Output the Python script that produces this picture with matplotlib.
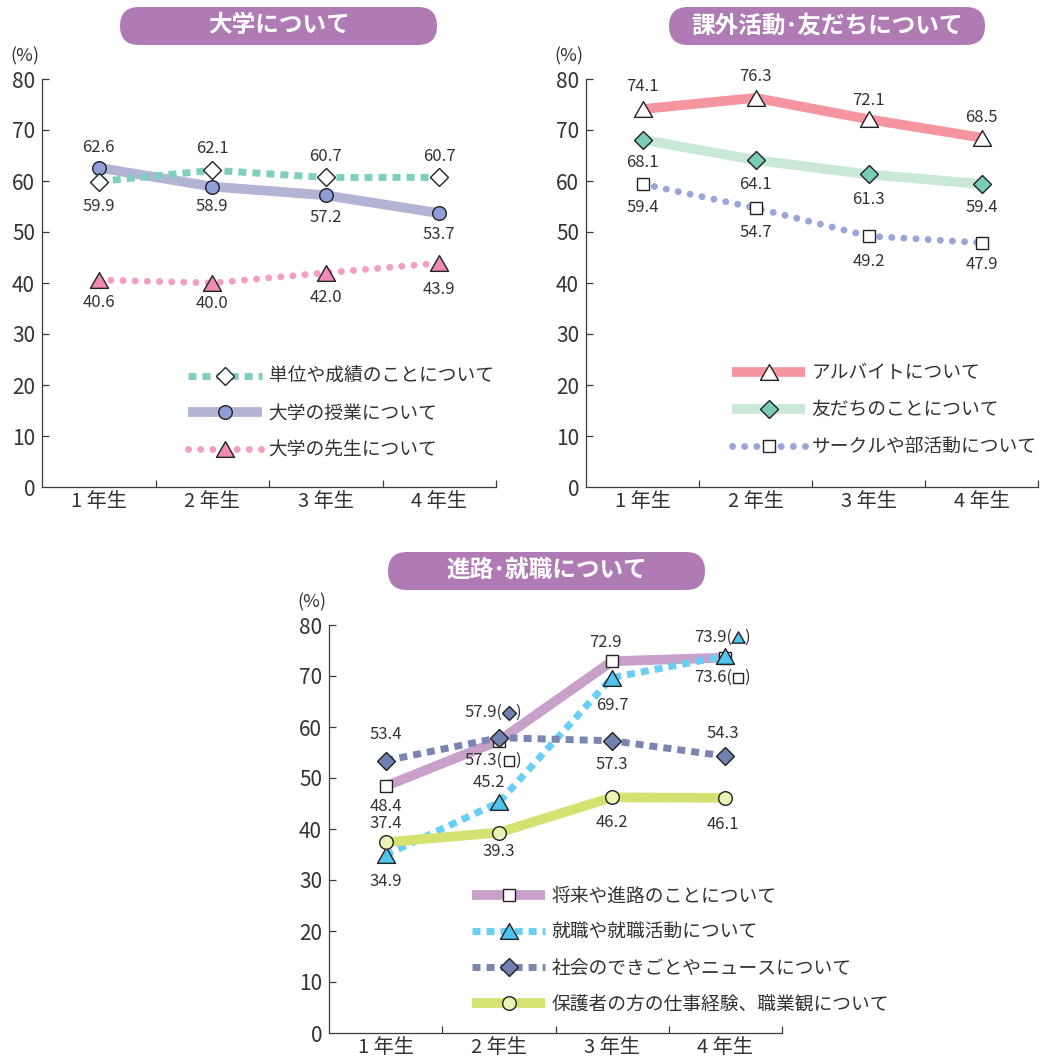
import matplotlib
matplotlib.use("Agg")
import matplotlib.pyplot as plt
import matplotlib.transforms as mtransforms
from matplotlib.lines import Line2D
from matplotlib.patches import FancyBboxPatch
from matplotlib.path import Path

plt.rcParams['font.family'] = ['Noto Sans CJK JP', 'DejaVu Sans']

# ---- data ----
GRADES = ["1 年生", "2 年生", "3 年生", "4 年生"]
Y_TICKS = [0, 10, 20, 30, 40, 50, 60, 70, 80]

UNI_TITLE = "大学について"
UNI_LABELS = ["単位や成績のことについて", "大学の授業について", "大学の先生について"]
UNI_CREDITS = [59.9, 62.1, 60.7, 60.7]
UNI_CLASSES = [62.6, 58.9, 57.2, 53.7]
UNI_TEACHERS = [40.6, 40.0, 42.0, 43.9]

CLUB_TITLE = "課外活動\uff65友だちについて"
CLUB_LABELS = ["アルバイトについて", "友だちのことについて", "サークルや部活動について"]
CLUB_PARTTIME = [74.1, 76.3, 72.1, 68.5]
CLUB_FRIENDS = [68.1, 64.1, 61.3, 59.4]
CLUB_CIRCLES = [59.4, 54.7, 49.2, 47.9]

CAREER_TITLE = "進路\uff65就職について"
CAREER_LABELS = ["将来や進路のことについて", "就職や就職活動について",
                 "社会のできごとやニュースについて", "保護者の方の仕事経験、職業観について"]
CAREER_FUTURE = [48.4, 57.3, 72.9, 73.6]
CAREER_JOBS = [34.9, 45.2, 69.7, 73.9]
CAREER_NEWS = [53.4, 57.9, 57.3, 54.3]
CAREER_PARENTS = [37.4, 39.3, 46.2, 46.1]

# ---- styles ----
TEXT = "#333333"
AXIS = "#3c3c3c"
BOX = "#B07AB4"
TRI = Path([(0, 0.87), (-1, -0.87), (1, -0.87), (0, 0.87)],
           [Path.MOVETO, Path.LINETO, Path.LINETO, Path.CLOSEPOLY])

SQUARE_DASH = dict(ls=(0, (1.15, 0.87)), dash_capstyle="butt", lw=5)
DOTS = dict(ls=(0, (0.01, 1.74)), dash_capstyle="round", lw=5)
SOLID = dict(ls="-", lw=7, solid_capstyle="butt")

MARK = {
    "D": dict(marker="D", ms=9.5),
    "o": dict(marker="o", ms=9.8),
    "s": dict(marker="s", ms=9.2),
    "^": dict(marker=TRI, ms=13),
}

fig = plt.figure(figsize=(10.44, 10.58), dpi=100)


def px_shift(dx, dy):
    return mtransforms.ScaledTranslation(dx / 100, dy / 100, fig.dpi_scale_trans)


def setup_axes(ax):
    ax.set_xlim(-0.5, 3.5)
    ax.set_ylim(0, 80)
    for side in ("top", "right"):
        ax.spines[side].set_visible(False)
    for side in ("left", "bottom"):
        ax.spines[side].set_color(AXIS)
        ax.spines[side].set_linewidth(0.9)
    ax.set_yticks(Y_TICKS)
    ax.set_yticklabels([str(t) for t in Y_TICKS])
    ax.tick_params(axis="y", direction="in", length=5, width=0.9, color=AXIS,
                   labelsize=15, labelcolor=TEXT, pad=5)
    ax.yaxis.get_major_ticks()[0].tick1line.set_visible(False)
    ax.set_xticks(range(len(GRADES)))
    ax.set_xticklabels(GRADES)
    ax.tick_params(axis="x", which="major", length=0, labelsize=14.5,
                   labelcolor=TEXT, pad=3)
    ax.set_xticks([0.5, 1.5, 2.5, 3.5], minor=True)
    ax.tick_params(axis="x", which="minor", direction="in", length=5,
                   width=0.9, color=AXIS)
    ax.annotate("(%)", xy=(0, 1), xycoords="axes fraction", xytext=(-12.5, 16.5),
                textcoords="offset points", ha="center", va="center",
                fontsize=13, color=TEXT)


def title_box(x0, y0, x1, y1, text):
    # pixel coords from the top of the figure
    h = (y1 - y0) / 100
    box = FancyBboxPatch((x0 / 100, (1058 - y1) / 100), (x1 - x0) / 100, h,
                         boxstyle=f"round,pad=0,rounding_size={h / 2}",
                         transform=fig.dpi_scale_trans, facecolor=BOX,
                         edgecolor="none")
    fig.add_artist(box)
    fig.text((x0 + x1) / 200, (1058 - (y0 + y1) / 2) / 100 + 0.01, text,
             transform=fig.dpi_scale_trans, ha="center", va="center",
             color="white", fontsize=17, fontweight="bold")


def draw_series(ax, series):
    handles = []
    x = range(len(GRADES))
    for s in series:
        ax.plot(x, s["values"], color=s["color"], zorder=2, **s["line"])
    for s in series:
        mk = MARK[s["marker"]]
        ax.plot(x, s["values"], ls="none", mfc=s["mfc"], mec="#222222",
                mew=1, zorder=3, clip_on=False, **mk)
        handles.append(Line2D([], [], color=s["color"], mfc=s["mfc"],
                              mec="#222222", mew=1, **s["line"], **mk))
        for i, v in enumerate(s["values"]):
            dx, dy = s["offsets"][i]
            if s.get("bracket") and s["bracket"][i]:
                # value followed by "(marker)"
                ax.annotate(f"{v:.1f}(", xy=(i, v), xytext=((dx - 6) * 0.72, dy * 0.72),
                            textcoords="offset points", ha="right", va="center",
                            fontsize=12, color=TEXT)
                ax.plot([i], [v], ls="none", marker=mk["marker"],
                        ms=mk["ms"] * 0.72, mfc=s["mfc"], mec="#222222", mew=1,
                        transform=ax.transData + px_shift(dx, dy), clip_on=False,
                        zorder=4)
                ax.annotate(")", xy=(i, v), xytext=((dx + 6) * 0.72, dy * 0.72),
                            textcoords="offset points", ha="left", va="center",
                            fontsize=12, color=TEXT)
            else:
                ax.annotate(f"{v:.1f}", xy=(i, v), xytext=(dx * 0.72, dy * 0.72),
                            textcoords="offset points", ha="center", va="center",
                            fontsize=12, color=TEXT)
    return handles


def add_legend(ax, handles, labels, anchor, handlelength, spacing):
    ax.legend(handles, labels, loc="center left", bbox_to_anchor=anchor,
              frameon=False, handlelength=handlelength, handletextpad=0.35,
              labelspacing=spacing, borderpad=0, borderaxespad=0,
              fontsize=13.5, labelcolor=TEXT, numpoints=1)


# ---- panel 1 ----
ax1 = fig.add_axes([42 / 1044, 1 - 487 / 1058, 454 / 1044, 408 / 1058])
setup_axes(ax1)
h1 = draw_series(ax1, [
    dict(values=UNI_CLASSES, color="#B3B3D3", line=SOLID, marker="o", mfc="#8E9ED8",
         offsets=[(0, 20), (0, -20), (0, -22), (0, -21)]),
    dict(values=UNI_CREDITS, color="#7ECFBF", line=SQUARE_DASH, marker="D", mfc="white",
         offsets=[(0, -25), (0, 22), (0, 21), (0, 21)]),
    dict(values=UNI_TEACHERS, color="#F29EC5", line=DOTS, marker="^", mfc="#EE8AB4",
         offsets=[(0, -23), (0, -21), (0, -25), (0, -26)]),
])
add_legend(ax1, [h1[1], h1[0], h1[2]], UNI_LABELS, (146 / 454, 0.180), 3.95, 0.85)
title_box(120, 7, 437, 45, UNI_TITLE)

# ---- panel 2 ----
ax2 = fig.add_axes([586 / 1044, 1 - 487 / 1058, 452 / 1044, 408 / 1058])
setup_axes(ax2)
h2 = draw_series(ax2, [
    dict(values=CLUB_PARTTIME, color="#F4959F", line=SOLID, marker="^", mfc="white",
         offsets=[(0, 23), (0, 21), (0, 19), (0, 20)]),
    dict(values=CLUB_FRIENDS, color="#C9E8D6", line=SOLID, marker="D", mfc="#7ACCB9",
         offsets=[(0, -23), (0, -24), (0, -25), (0, -23)]),
    dict(values=CLUB_CIRCLES, color="#9AA6DA", line=DOTS, marker="s", mfc="white",
         offsets=[(0, -23), (0, -24), (0, -25), (0, -22)]),
])
add_legend(ax2, h2, CLUB_LABELS, (146 / 452, 0.1895), 3.9, 0.85)
title_box(669, 7, 985, 45, CLUB_TITLE)

# ---- panel 3 ----
ax3 = fig.add_axes([329 / 1044, 1 - 1033 / 1058, 453 / 1044, 408 / 1058])
setup_axes(ax3)
h3 = draw_series(ax3, [
    dict(values=CAREER_FUTURE, color="#C8A0CA", line=SOLID, marker="s", mfc="white",
         offsets=[(0, -20), (10, -20), (-7, 19), (13, -20)],
         bracket=[False, True, False, True]),
    dict(values=CAREER_JOBS, color="#6ACFF6", line=SQUARE_DASH, marker="^", mfc="#50C4EE",
         offsets=[(0, -26), (-10, 20), (0, -28), (13, 19)],
         bracket=[False, False, False, True]),
    dict(values=CAREER_NEWS, color="#7B85B1", line=SQUARE_DASH, marker="D", mfc="#7080B0",
         offsets=[(0, 26), (10, 25), (0, -24), (-3, 23)],
         bracket=[False, True, False, False]),
    dict(values=CAREER_PARENTS, color="#D5E170", line=SOLID, marker="o", mfc="#EAF2B5",
         offsets=[(0, 19), (0, -19), (0, -25), (-2, -27)]),
])
add_legend(ax3, h3, CAREER_LABELS, (143 / 453, 0.2034), 3.9, 0.8)
title_box(388, 552, 705, 590, CAREER_TITLE)

fig.savefig("out.png", dpi=100)
